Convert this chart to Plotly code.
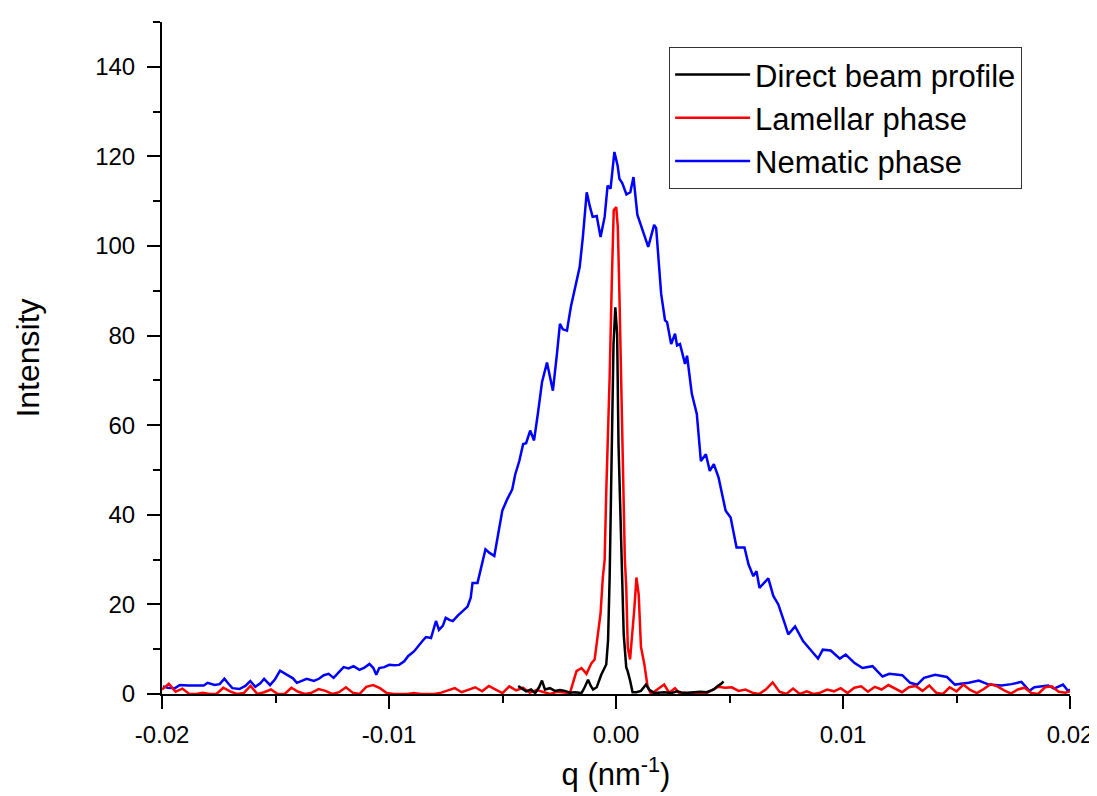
import plotly.graph_objects as go

# ---------------- data ----------------
nematic_q = [-0.01996, -0.01974, -0.01943, -0.01921, -0.01886, -0.01843, -0.01816, -0.01799, -0.01768,
             -0.01746, -0.01725, -0.01707, -0.01690, -0.01659, -0.01633, -0.01611, -0.01589, -0.01567,
             -0.01550, -0.01524, -0.01502, -0.01480, -0.01458, -0.01440, -0.01423, -0.01406, -0.01384,
             -0.01362, -0.01331, -0.01309, -0.01287, -0.01266, -0.01244, -0.01222, -0.01200, -0.01178,
             -0.01156, -0.01130, -0.01108, -0.01086, -0.01069, -0.01056, -0.01043, -0.01021, -0.00999,
             -0.00977, -0.00955, -0.00933, -0.00915, -0.00890, -0.00868, -0.00850, -0.00837, -0.00815,
             -0.00793, -0.00780, -0.00763, -0.00750, -0.00732, -0.00719, -0.00697, -0.00671, -0.00654,
             -0.00640, -0.00632, -0.00610, -0.00592, -0.00575, -0.00557, -0.00536, -0.00518, -0.00501,
             -0.00479, -0.00457, -0.00444, -0.00426, -0.00409, -0.00396, -0.00378, -0.00361, -0.00343,
             -0.00326, -0.00304, -0.00291, -0.00278, -0.00260, -0.00247, -0.00234, -0.00216, -0.00199,
             -0.00181, -0.00160, -0.00146, -0.00129, -0.00116, -0.00103, -0.00085, -0.00068, -0.00050,
             -0.00037, -0.00024, -0.00007, 0.00007, 0.00015, 0.00028, 0.00046, 0.00063, 0.00077,
             0.00094, 0.00116, 0.00142, 0.00168, 0.00177, 0.00190, 0.00199, 0.00216, 0.00225, 0.00243,
             0.00260, 0.00269, 0.00282, 0.00304, 0.00313, 0.00334, 0.00356, 0.00374, 0.00396, 0.00413,
             0.00431, 0.00452, 0.00483, 0.00505, 0.00531, 0.00566, 0.00584, 0.00605, 0.00619, 0.00632,
             0.00671, 0.00693, 0.00715, 0.00745, 0.00759, 0.00789, 0.00824, 0.00868, 0.00890, 0.00911,
             0.00946, 0.00986, 0.01012, 0.01051, 0.01086, 0.01130, 0.01174, 0.01204, 0.01261, 0.01296,
             0.01327, 0.01357, 0.01406, 0.01458, 0.01493, 0.01554, 0.01598, 0.01642, 0.01698, 0.01742,
             0.01786, 0.01821, 0.01843, 0.01904, 0.01930, 0.01969, 0.01991, 0.02000]
nematic_i = [1.7, 1.4, 1.3, 2.0, 1.9, 1.8, 1.9, 2.5, 2.0,
             2.2, 3.4, 2.3, 1.3, 1.1, 1.8, 2.9, 1.6, 2.4,
             3.4, 2.0, 3.3, 5.2, 4.5, 4.0, 3.5, 2.5, 3.0,
             3.4, 2.9, 3.4, 4.2, 4.5, 3.6, 4.8, 6.0, 5.7,
             6.2, 5.4, 5.9, 6.7, 5.8, 4.3, 5.8, 6.0, 6.5,
             6.4, 6.5, 7.3, 8.5, 9.5, 11.0, 12.0, 12.7, 12.5,
             16.3, 14.3, 15.2, 17.0, 16.5, 16.3, 17.5, 18.6, 19.5,
             21.5, 24.8, 24.8, 28.5, 32.3, 31.5, 30.8, 36.0, 40.9,
             43.5, 45.7, 49.0, 52.0, 55.8, 56.0, 58.8, 56.6, 63.0,
             69.6, 74.0, 71.0, 67.7, 76.0, 82.6, 81.4, 81.1, 86.4,
             90.8, 95.3, 102.0, 112.0, 109.0, 106.5, 106.7, 102.0, 106.5,
             113.5, 112.8, 121.0, 118.0, 115.0, 114.0, 111.5, 112.0, 115.4,
             107.0, 103.6, 99.8, 104.7, 104.0, 95.3, 89.3, 83.4, 83.0, 78.1,
             80.4, 77.8, 78.1, 73.7, 75.5, 67.0, 62.5, 52.0, 53.5, 49.8,
             51.3, 48.3, 40.9, 39.4, 32.7, 32.7, 28.9, 26.3, 27.4, 23.7,
             25.8, 21.9, 20.0, 15.5, 13.3, 15.1, 11.8, 9.2, 7.9, 9.9,
             9.7, 7.9, 8.8, 6.9, 5.8, 6.2, 3.9, 4.5, 4.2, 2.5,
             2.1, 3.6, 4.3, 3.8, 2.1, 2.5, 3.0, 2.1, 1.9, 2.2,
             2.7, 0.7, 1.5, 1.9, 1.2, 2.1, 0.7, 1.0]

lamellar_q = [-0.0200, -0.0197, -0.0194, -0.0191, -0.0188, -0.0185, -0.0182, -0.0179, -0.0176, -0.0173,
              -0.0170, -0.0167, -0.0164, -0.0161, -0.0158, -0.0155, -0.0152, -0.0149, -0.0146, -0.0143,
              -0.0140, -0.0137, -0.0134, -0.0131, -0.0128, -0.0125, -0.0122, -0.0119, -0.0116, -0.0113,
              -0.0110, -0.0107, -0.0104, -0.0101, -0.0098, -0.0095, -0.0092, -0.0089, -0.0086, -0.0083,
              -0.0080, -0.0077, -0.0074, -0.0071, -0.0068, -0.0065, -0.0062, -0.0059, -0.0056, -0.0053,
              -0.0050, -0.0047, -0.0044, -0.0041, -0.0038, -0.0035, -0.0032, -0.0029, -0.0026, -0.0023,
              -0.00203, -0.00174, -0.00152, -0.00130, -0.00108, -0.00094, -0.00080, -0.00068, -0.00058,
              -0.00050, -0.00043, -0.00035, -0.00028, -0.00018, -0.00010, 0.00001, 0.00008, 0.00015,
              0.00023, 0.00030, 0.00034, 0.00039, 0.00045, 0.00052, 0.00062, 0.00070, 0.00081, 0.00090,
              0.00100, 0.00110, 0.00125, 0.00139, 0.00154, 0.00168, 0.00190, 0.00212, 0.00234, 0.00260,
              0.00282,
              0.0030, 0.0033, 0.0036, 0.0039, 0.0042, 0.0045, 0.0048, 0.0051, 0.0054, 0.0057,
              0.0060, 0.0063, 0.0066, 0.0069, 0.0072, 0.0075, 0.0078, 0.0081, 0.0084, 0.0087,
              0.0090, 0.0093, 0.0096, 0.0099, 0.0102, 0.0105, 0.0108, 0.0111, 0.0114, 0.0117,
              0.0120, 0.0123, 0.0126, 0.0129, 0.0132, 0.0135, 0.0138, 0.0141, 0.0144, 0.0147,
              0.0150, 0.0153, 0.0156, 0.0159, 0.0162, 0.0165, 0.0168, 0.0171, 0.0174, 0.0177,
              0.0180, 0.0183, 0.0186, 0.0189, 0.0192, 0.0195, 0.0198, 0.0200]
lamellar_i = [1.0, 2.3, 0.5, 1.2, 0.0, 0.0, 0.3, 0.0, 0.0, 1.4,
              0.6, 0.0, 0.2, 1.8, 0.0, 0.4, 1.0, 0.0, 0.0, 1.4,
              0.5, 0.0, 0.3, 1.1, 0.7, 0.0, 0.4, 1.5, 0.3, 0.0,
              1.6, 2.0, 1.3, 0.2, 0.0, 0.0, 0.0, 0.2, 0.0, 0.0,
              0.0, 0.3, 0.8, 1.3, 0.4, 0.9, 1.5, 0.6, 1.8, 1.0,
              0.2, 1.7, 0.8, 1.4, 0.3, 0.9, 0.4, 0.0, 0.5, 0.3,
              0.2, 5.1, 5.8, 4.5, 6.9, 7.7, 13.3, 18.0, 26.0,
              30.0, 45.0, 58.0, 70.7, 93.0, 108.0, 108.7, 104.2, 89.3,
              67.0, 50.0, 44.6, 30.0, 24.0, 10.3, 7.7, 12.0, 19.2, 26.0,
              22.2, 10.5, 6.6, 1.7, 0.0, 0.5, 1.3, 2.1, 0.3, 1.3,
              0.0,
              0.3, 0.0, 0.2, 0.0, 0.8, 1.6, 1.4, 1.5, 0.7, 1.0,
              0.3, 0.0, 1.0, 2.6, 0.5, 0.0, 1.2, 0.0, 0.6, 0.0,
              0.3, 1.0, 0.6, 1.3, 0.2, 1.4, 1.7, 0.5, 1.6, 1.0,
              2.0, 1.2, 0.4, 1.5, 1.8, 0.7, 1.9, 0.3, 0.0, 1.5,
              0.6, 2.1, 0.9, 0.2, 1.1, 2.2, 1.7, 0.8, 0.1, 1.0,
              1.4, 0.2, 0.0, 1.5, 1.7, 0.5, 0.3, 0.6]

direct_q = [-0.00431, -0.00413, -0.00396, -0.00374, -0.00356, -0.00339, -0.00326, -0.00313, -0.00291,
            -0.00269, -0.00247, -0.00225, -0.00203, -0.00181, -0.00152, -0.00138, -0.00123, -0.00111,
            -0.00101, -0.00085, -0.00065, -0.00043, -0.00035, -0.00028, -0.00018, -0.00011, -0.00003,
            0.00005, 0.00011, 0.00023, 0.00034, 0.00045, 0.00052, 0.00063, 0.00073, 0.00090, 0.00110,
            0.00132, 0.00146, 0.00168, 0.00212, 0.00243, 0.00270, 0.00299, 0.00330, 0.00372, 0.00400,
            0.00431, 0.00448, 0.00461, 0.00474]
direct_i = [1.8, 1.2, 0.6, 1.0, 0.2, 1.5, 3.0, 1.0, 1.3,
            0.7, 0.9, 0.7, 0.3, 0.4, 0.2, 1.5, 3.2, 1.8,
            1.0, 1.5, 4.3, 6.6, 12.0, 26.0, 55.8, 78.0, 86.3,
            80.4, 55.8, 33.4, 13.3, 6.0, 5.0, 2.8, 0.4, 0.4, 0.7,
            2.1, 1.0, 0.2, 0.4, 0.2, 0.6, 0.2, 0.4, 0.5, 0.4,
            1.0, 1.8, 2.2, 2.8]

series_names = ["Nematic phase", "Lamellar phase", "Direct beam profile"]
series_colors = ["#0000FF", "#FF0000", "#000000"]

x_tickvals = [-0.02, -0.01, 0.0, 0.01, 0.02]
x_ticktext = ["-0.02", "-0.01", "0.00", "0.01", "0.02"]
y_tickvals = [0, 20, 40, 60, 80, 100, 120, 140]

FONT = "Arial, Liberation Sans, sans-serif"

fig = go.Figure()
for qs, vals, name, col in zip([nematic_q, lamellar_q, direct_q],
                               [nematic_i, lamellar_i, direct_i],
                               series_names, series_colors):
    fig.add_trace(go.Scatter(x=qs, y=vals, mode="lines", name=name,
                             line=dict(color=col, width=2.5)))

axis_common = dict(showline=True, linecolor="black", linewidth=2, showgrid=False,
                   zeroline=False, tickcolor="black", tickwidth=2, ticklen=13)

fig.update_layout(
    width=1097, height=796,
    paper_bgcolor="white", plot_bgcolor="white",
    margin=dict(l=154, r=28, t=14, b=110),
    font=dict(family=FONT, color="black"),
    showlegend=True,
    legend=dict(x=0.5585, y=0.963, xanchor="left", yanchor="top",
                traceorder="reversed", bgcolor="white",
                bordercolor="#333333", borderwidth=1,
                font=dict(size=31, family=FONT, color="black"),
                itemwidth=75, tracegroupgap=0),
    xaxis=dict(range=[-0.02, 0.02], ticks="outside",
               tickvals=x_tickvals, ticktext=x_ticktext,
               tickfont=dict(size=24, family=FONT), ticklabelstandoff=5,
               minor=dict(ticks="outside", ticklen=7, tickwidth=2, tickcolor="black", dtick=0.005),
               title=dict(text="q (nm<sup>-1</sup>)", font=dict(size=31, family=FONT), standoff=17),
               **axis_common),
    yaxis=dict(range=[0, 150], ticks="outside", tickvals=y_tickvals,
               tickfont=dict(size=24, family=FONT), ticklabelstandoff=7,
               minor=dict(ticks="outside", ticklen=7, tickwidth=2, tickcolor="black", dtick=10),
               title=dict(text="Intensity", font=dict(size=32, family=FONT), standoff=46),
               **axis_common),
    xaxis2=dict(range=[-0.02, 0.02], overlaying="x", side="top", anchor="y", ticks="inside",
                tickvals=x_tickvals, showticklabels=False,
                minor=dict(ticks="inside", ticklen=7, tickwidth=2, tickcolor="black", dtick=0.005),
                **axis_common),
    yaxis2=dict(range=[0, 150], overlaying="y", side="right", anchor="x", ticks="inside",
                tickvals=y_tickvals, showticklabels=False,
                minor=dict(ticks="inside", ticklen=7, tickwidth=2, tickcolor="black", dtick=10),
                **axis_common),
)

fig.write_html("out.html")
